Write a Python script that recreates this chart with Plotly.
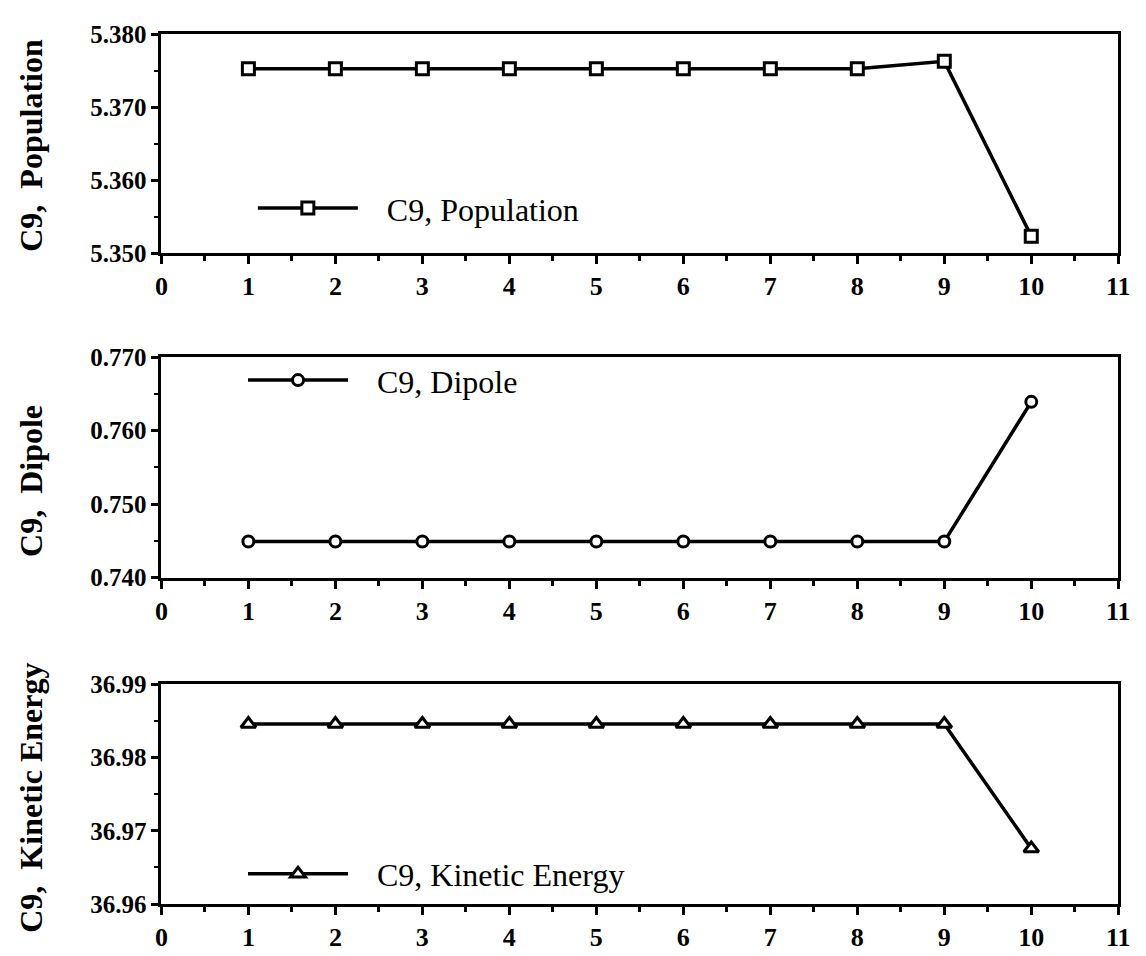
import plotly.graph_objects as go

# Iteration index shared by the three panels
steps = [1, 2, 3, 4, 5, 6, 7, 8, 9, 10]

population = [5.3753, 5.3753, 5.3753, 5.3753, 5.3753, 5.3753, 5.3753, 5.3753, 5.3763, 5.3523]
dipole = [0.7449, 0.7449, 0.7449, 0.7449, 0.7449, 0.7449, 0.7449, 0.7449, 0.7449, 0.7639]
kinetic = [36.9846, 36.9846, 36.9846, 36.9846, 36.9846, 36.9846, 36.9846, 36.9846, 36.9846, 36.9676]

series_names = ["C9, Population", "C9, Dipole", "C9, Kinetic Energy"]
axis_titles = ["C9,  Population", "C9,  Dipole", "C9,  Kinetic Energy"]
y_ranges = [[5.350, 5.380], [0.740, 0.770], [36.96, 36.99]]
y_formats = [".3f", ".3f", ".2f"]
x_range = [0, 11]

W, H = 1146, 956
SERIF = "Liberation Serif, Times New Roman, serif"
NBSP = "\u00a0"

# panel boxes in pixels: (top, bottom)
panels_px = [(22, 247), (354, 581), (691, 917)]
x_left_px, x_right_px = 157, 1130

# white-filled markers with a black outline
symbols = ["square", "circle", "triangle-up"]
marker_sizes = [12, 11, 13]

fig = go.Figure()
data = [population, dipole, kinetic]

for i in range(3):
    suffix = "" if i == 0 else str(i + 1)
    fig.add_trace(go.Scatter(
        x=steps, y=data[i], mode="lines+markers",
        name=NBSP * 3 + series_names[i],
        xaxis="x" + suffix, yaxis="y" + suffix,
        legend="legend" + suffix,
        line=dict(color="black", width=3.5),
        marker=dict(symbol=symbols[i], size=marker_sizes[i],
                    color="white", line=dict(color="black", width=3)),
        cliponaxis=False,
    ))

layout = dict(
    width=W, height=H,
    margin=dict(l=0, r=0, t=0, b=0),
    paper_bgcolor="white", plot_bgcolor="white",
    showlegend=True,
    font=dict(family=SERIF, color="black"),
)

legend_pos = [(250, 201), (240, 378), (240, 886)]
annotations = []
for i in range(3):
    suffix = "" if i == 0 else str(i + 1)
    top, bot = panels_px[i]
    ydom = [1 - bot / H, 1 - top / H]
    layout["xaxis" + suffix] = dict(
        domain=[x_left_px / W, x_right_px / W],
        anchor="y" + suffix,
        range=x_range, dtick=1, tick0=0,
        showgrid=False, zeroline=False,
        showline=True, linecolor="black", linewidth=3, mirror=True,
        ticks="outside", ticklen=8, tickwidth=2.5, tickcolor="black",
        minor=dict(dtick=0.5, ticks="outside", ticklen=5, tickwidth=2.5, tickcolor="black"),
        tickfont=dict(family=SERIF, size=26, color="black", weight="bold"),
    )
    layout["yaxis" + suffix] = dict(
        domain=ydom,
        anchor="x" + suffix,
        range=y_ranges[i], dtick=0.01, tick0=y_ranges[i][0],
        tickformat=y_formats[i],
        showgrid=False, zeroline=False,
        showline=True, linecolor="black", linewidth=3, mirror=True,
        ticks="outside", ticklen=7, tickwidth=2.5, tickcolor="black",
        minor=dict(dtick=0.005, ticks="outside", ticklen=4, tickwidth=2, tickcolor="black"),
        tickfont=dict(family=SERIF, size=25, color="black", weight="bold"),
    )
    lx, ly = legend_pos[i]
    layout["legend" + suffix] = dict(
        x=lx / W, y=1 - ly / H, xanchor="left", yanchor="middle",
        bgcolor="rgba(0,0,0,0)", borderwidth=0,
        itemwidth=100,
        font=dict(family=SERIF, size=32, color="black"),
    )

title_centres = [136, 482, 808]
for i in range(3):
    annotations.append(dict(
        text=axis_titles[i], xref="paper", yref="paper",
        x=25 / W, y=1 - title_centres[i] / H,
        xanchor="center", yanchor="middle", textangle=-90, showarrow=False,
        font=dict(family=SERIF, size=32, color="black", weight="bold"),
    ))
layout["annotations"] = annotations

fig.update_layout(**layout)
fig.write_html("out.html")
